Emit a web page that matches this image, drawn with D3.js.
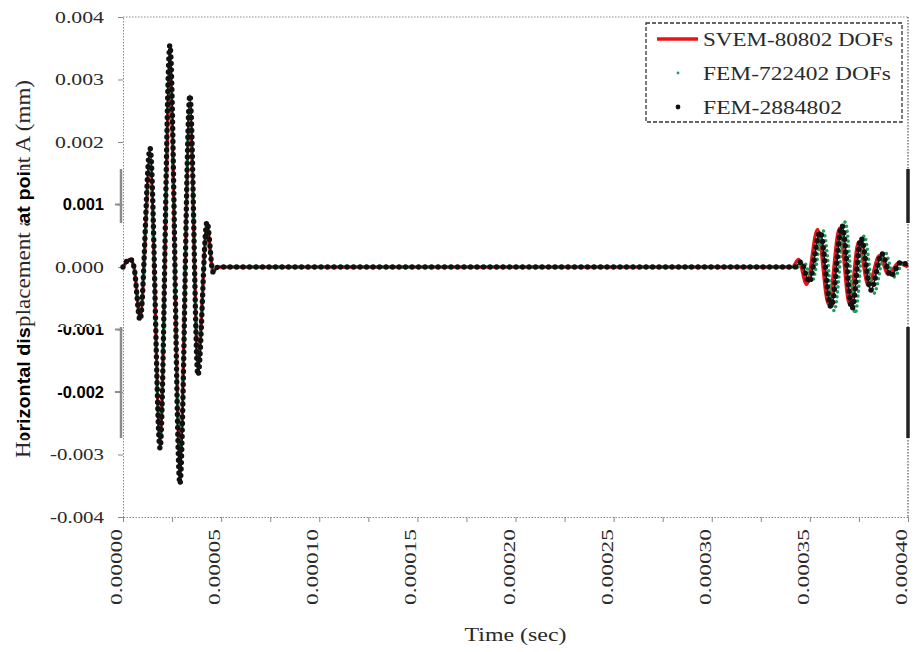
<!DOCTYPE html>
<html>
<head>
<meta charset="utf-8">
<script src="https://cdn.jsdelivr.net/npm/d3@7"></script>
<style>
  body { margin: 0; background: #fff; }
  svg { display: block; }
</style>
</head>
<body>
<svg id="chart" width="918" height="652"></svg>
<script>
// ---- data -------------------------------------------------------------
const timeTickValues = [0, 0.000025, 0.00005, 0.000075, 0.0001, 0.000125, 0.00015, 0.000175,
  0.0002, 0.000225, 0.00025, 0.000275, 0.0003, 0.000325, 0.00035, 0.000375, 0.0004];
const timeLabelValues = [0, 0.00005, 0.0001, 0.00015, 0.0002, 0.00025, 0.0003, 0.00035, 0.0004];
const timeLabels = ["0.00000", "0.00005", "0.00010", "0.00015", "0.00020",
  "0.00025", "0.00030", "0.00035", "0.00040"];
const dispTickValues = [0.004, 0.003, 0.002, 0.001, 0, -0.001, -0.002, -0.003, -0.004];
const dispLabels = ["0.004", "0.003", "0.002", "0.001", "0.000",
  "-0.001", "-0.002", "-0.003", "-0.004"];

const seriesNames = ["SVEM-80802 DOFs", "FEM-722402 DOFs", "FEM-2884802"];

// SVEM, 80802 DOFs
const svemTime = [0, 0.0000036, 0.0000056, 0.0000087, 0.0000138, 0.0000189, 0.0000239, 0.0000290,
  0.0000341, 0.0000382, 0.0000428, 0.0000459, 0.0000484, 0.0001, 0.0002, 0.0003,
  0.000341, 0.0003442, 0.0003483, 0.0003539, 0.0003595, 0.0003651, 0.0003702,
  0.0003748, 0.0003798, 0.0003854, 0.00039, 0.0003951, 0.0004];
const svemDisp = [0, 0.00012, 0, -0.0008, 0.0016, -0.0027, 0.0030, -0.0030,
  0.0024, -0.0015, 0.00065, -0.00006, 0, 0, 0, 0,
  0, 0.00012, -0.00028, 0.0006, -0.0006, 0.00062, -0.0006,
  0.0004, -0.0003, 0.00018, -0.00012, 0.00006, 0];

// FEM, 722402 DOFs
const femMidTime = [0, 0.0000036, 0.0000056, 0.0000087, 0.0000138, 0.0000189, 0.0000239, 0.0000290,
  0.0000341, 0.0000382, 0.0000428, 0.0000459, 0.0000484, 0.0001, 0.0002, 0.0003,
  0.000344, 0.0003471, 0.0003512, 0.0003568, 0.0003624, 0.000368, 0.0003731,
  0.0003777, 0.0003827, 0.0003883, 0.0003929, 0.000398, 0.0004];
const femMidDisp = [0, 0.00012, 0, -0.0008, 0.0017, -0.0028, 0.0033, -0.0032,
  0.0026, -0.0016, 0.0007, -0.00008, 0, 0, 0, 0,
  0, 0.00007, -0.00022, 0.00058, -0.0007, 0.00072, -0.00074,
  0.0005, -0.00042, 0.00024, -0.00016, 0.00008, 0];

// FEM, 2884802 DOFs
const femFineTime = [0, 0.0000036, 0.0000056, 0.0000087, 0.0000138, 0.0000189, 0.0000239, 0.0000290,
  0.0000341, 0.0000382, 0.0000428, 0.0000459, 0.0000484, 0.0001, 0.0002, 0.0003,
  0.0003424, 0.0003455, 0.0003496, 0.0003552, 0.0003608, 0.0003664, 0.0003715,
  0.0003761, 0.0003811, 0.0003867, 0.0003913, 0.0003964, 0.0004];
const femFineDisp = [0, 0.00013, 0, -0.00085, 0.0019, -0.0029, 0.00355, -0.00347,
  0.00275, -0.00173, 0.00072, -0.00008, 0, 0, 0, 0,
  0, 0.00008, -0.00024, 0.00056, -0.00064, 0.00066, -0.00067,
  0.00046, -0.00037, 0.00021, -0.00014, 0.00008, 0.00002];

// ---- layout -----------------------------------------------------------
const W = 918, H = 652;
const plot = { left: 123, right: 908, top: 17, bottom: 517 };
// horizontal strips where the text is set in heavy type and the frame is solid
const strips = [[169, 223], [327, 438]];

const svg = d3.select("#chart");
const x = d3.scaleLinear().domain([0, 0.0004]).range([plot.left, plot.right]);
const y = d3.scaleLinear().domain([-0.004, 0.004]).range([plot.bottom, plot.top]);

const defs = svg.append("defs");
defs.append("clipPath").attr("id", "inStrip")
  .selectAll("rect").data(strips).join("rect")
  .attr("x", 0).attr("width", W)
  .attr("y", d => d[0]).attr("height", d => d[1] - d[0]);
const gaps = [];
let prev = 0;
strips.forEach(s => { gaps.push([prev, s[0]]); prev = s[1]; });
gaps.push([prev, H]);
defs.append("clipPath").attr("id", "outStrip")
  .selectAll("rect").data(gaps).join("rect")
  .attr("x", 0).attr("width", W)
  .attr("y", d => d[0]).attr("height", d => d[1] - d[0]);

// ---- frame --------------------------------------------------------------
const dotted = "1.5,1.5";
svg.append("line")
  .attr("x1", plot.left).attr("x2", plot.right)
  .attr("y1", plot.top).attr("y2", plot.top)
  .attr("stroke", "#8a8a8a").attr("stroke-dasharray", dotted);
svg.append("line")
  .attr("x1", plot.right).attr("x2", plot.right)
  .attr("y1", plot.top).attr("y2", plot.bottom)
  .attr("stroke", "#555").attr("stroke-width", 1.2).attr("stroke-dasharray", dotted);

const yAxis = svg.append("g")
  .attr("transform", `translate(${plot.left},0)`)
  .call(d3.axisLeft(y).tickValues(dispTickValues).tickSize(5).tickSizeOuter(0).tickFormat(""));
yAxis.select(".domain").attr("stroke", "#8a8a8a").attr("stroke-dasharray", dotted);
yAxis.selectAll(".tick line").attr("stroke", "#8a8a8a");

const xAxis = svg.append("g")
  .attr("transform", `translate(0,${plot.bottom})`)
  .call(d3.axisBottom(x).tickValues(timeTickValues).tickSize(5).tickSizeOuter(0).tickFormat(""));
xAxis.select(".domain").attr("stroke", "#8a8a8a").attr("stroke-dasharray", dotted);
xAxis.selectAll(".tick line").attr("stroke", "#8a8a8a");

// solid frame segments inside the strips
const stripG = svg.append("g");
stripG.selectAll("line.lbar").data(strips).join("line")
  .attr("x1", plot.left - 2).attr("x2", plot.left - 2)
  .attr("y1", d => d[0]).attr("y2", d => d[1])
  .attr("stroke", "#8c8c8c").attr("stroke-width", 2.5);
stripG.selectAll("line.rbar").data(strips).join("line")
  .attr("x1", plot.right).attr("x2", plot.right)
  .attr("y1", d => d[0]).attr("y2", d => d[1])
  .attr("stroke", "#222").attr("stroke-width", 3.5);
stripG.selectAll("line.stick")
  .data(dispTickValues.filter(v => strips.some(s => y(v) > s[0] && y(v) < s[1])))
  .join("line")
  .attr("x1", plot.left - 8).attr("x2", plot.left - 2)
  .attr("y1", d => y(d)).attr("y2", d => y(d))
  .attr("stroke", "#8c8c8c").attr("stroke-width", 2);

// ---- series ---------------------------------------------------------------
const line = d3.line().x(d => x(d[0])).y(d => y(d[1])).curve(d3.curveMonotoneX);
const pts = (t, v) => t.map((d, i) => [d, v[i]]);
const series = svg.append("g");

series.append("path")
  .attr("d", line(pts(svemTime, svemDisp)))
  .attr("fill", "none").attr("stroke", "#e0141a").attr("stroke-width", 3.4);

series.append("path")
  .attr("d", line(pts(femMidTime, femMidDisp)))
  .attr("fill", "none").attr("stroke", "#1d9e5c").attr("stroke-width", 3.6)
  .attr("stroke-linecap", "round").attr("stroke-dasharray", "0,5").attr("stroke-dashoffset", 2.5);

const finePath = line(pts(femFineTime, femFineDisp));
series.append("path")
  .attr("d", finePath)
  .attr("fill", "none").attr("stroke", "#111").attr("stroke-width", 1.6);
series.append("path")
  .attr("d", finePath)
  .attr("fill", "none").attr("stroke", "#111").attr("stroke-width", 5.4)
  .attr("stroke-linecap", "round").attr("stroke-dasharray", "0,6.5");

// ---- text: light face outside strips, heavy face inside ------------------
const gLight = svg.append("g").attr("clip-path", "url(#outStrip)");
const gHeavy = svg.append("g").attr("clip-path", "url(#inStrip)");

// o.span: screen-space vertical extent of the text, used to pick the face(s)
function label(o) {
  const inside = strips.filter(s => o.span[1] > s[0] && o.span[0] < s[1]);
  const fullyInside = strips.some(s => o.span[0] >= s[0] && o.span[1] <= s[1]);
  if (!fullyInside) {
    const light = gLight.append("text")
      .attr("transform", o.transform)
      .attr("text-anchor", o.anchor || "start")
      .attr("dy", o.dy || "0")
      .attr("font-family", "'Liberation Serif', 'Times New Roman', serif")
      .attr("font-size", o.size)
      .attr("fill", "#2a2a2a")
      .text(o.text);
    if (o.len) light.attr("textLength", o.len).attr("lengthAdjust", "spacingAndGlyphs");
  }
  if (inside.length > 0) {
    const heavy = gHeavy.append("text")
      .attr("transform", o.transform)
      .attr("text-anchor", o.anchor || "start")
      .attr("dy", o.dy || "0")
      .attr("font-family", "'Liberation Sans', Arial, sans-serif")
      .attr("font-weight", "bold")
      .attr("font-size", o.heavySize || o.size)
      .attr("fill", "#000")
      .text(o.text);
    if (o.heavyLen) heavy.attr("textLength", o.heavyLen).attr("lengthAdjust", "spacingAndGlyphs");
  }
}

// y tick labels
dispTickValues.forEach((v, i) => {
  label({
    transform: `translate(${plot.left - 19},${y(v)})`,
    span: [y(v) - 7, y(v) + 7],
    anchor: "end", dy: "0.35em", size: 16, heavySize: 16.5,
    len: dispLabels[i].startsWith("-") ? 54 : 49,
    text: dispLabels[i]
  });
});

// x tick labels (rotated)
timeLabelValues.forEach((v, i) => {
  label({
    transform: `translate(${x(v) - 1},${plot.bottom + 12}) rotate(-90)`,
    span: [plot.bottom + 12, plot.bottom + 90],
    anchor: "end", size: 16, len: 76,
    text: timeLabels[i]
  });
});

// axis titles
label({
  transform: `translate(${(plot.left + plot.right) / 2},641)`,
  span: [625, 646],
  anchor: "middle", size: 19, len: 102,
  text: "Time (sec)"
});
const titleMid = (plot.top + plot.bottom) / 2 + 2;
label({
  transform: `translate(30,${titleMid}) rotate(-90)`,
  span: [titleMid - 189, titleMid + 189],
  anchor: "middle", size: 20, heavySize: 19, len: 378, heavyLen: 378,
  text: "Horizontal displacement at point A (mm)"
});

// ---- legend ---------------------------------------------------------------
const lg = svg.append("g");
lg.append("rect")
  .attr("x", 646).attr("y", 23).attr("width", 256).attr("height", 99)
  .attr("fill", "#fff").attr("stroke", "#333").attr("stroke-width", 1.3)
  .attr("stroke-dasharray", "4,2");
const rowY = [39, 73, 107];
lg.append("line")
  .attr("x1", 657).attr("x2", 698).attr("y1", rowY[0]).attr("y2", rowY[0])
  .attr("stroke", "#ee1111").attr("stroke-width", 3.5);
lg.append("circle").attr("cx", 678).attr("cy", rowY[1]).attr("r", 1.4).attr("fill", "#1d9e5c");
lg.append("circle").attr("cx", 678).attr("cy", rowY[2]).attr("r", 2.4).attr("fill", "#111");
const legendLen = [190, 188, 139];
seriesNames.forEach((n, i) => {
  lg.append("text")
    .attr("x", 703).attr("y", rowY[i]).attr("dy", "0.35em")
    .attr("font-family", "'Liberation Serif', 'Times New Roman', serif")
    .attr("font-size", 19).attr("fill", "#2a2a2a")
    .attr("textLength", legendLen[i]).attr("lengthAdjust", "spacingAndGlyphs")
    .text(n);
});
</script>
</body>
</html>
